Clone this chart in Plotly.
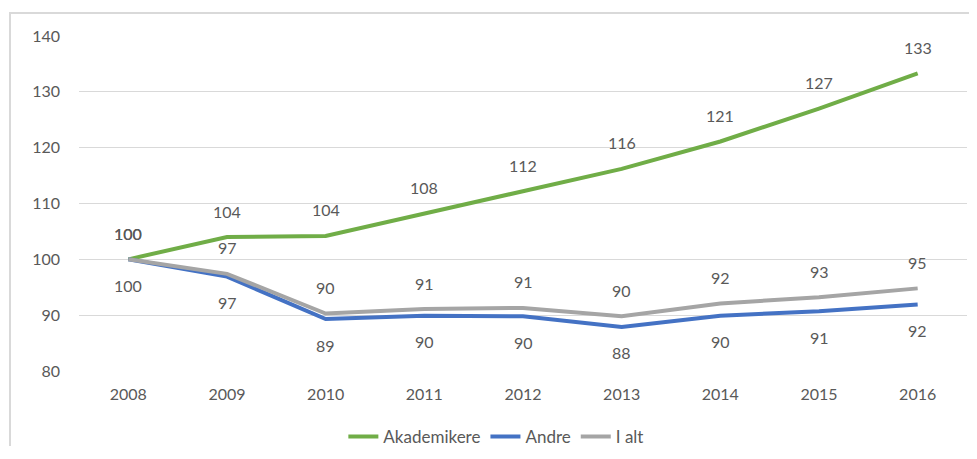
import plotly.graph_objects as go

years = [2008, 2009, 2010, 2011, 2012, 2013, 2014, 2015, 2016]
akademikere = [100, 104.0, 104.2, 108.2, 112.2, 116.2, 121.1, 127.0, 133.3]
andre = [100, 96.9, 89.3, 89.9, 89.8, 87.9, 89.9, 90.7, 91.9]
i_alt = [100, 97.4, 90.3, 91.1, 91.3, 89.8, 92.1, 93.2, 94.8]

series = [
    ("Akademikere", akademikere, "#70AD47", 26),
    ("Andre", andre, "#4472C4", -26),
    ("I alt", i_alt, "#A5A5A5", 26),
]

FONT = "Lato, Calibri, Carlito, sans-serif"
TXT = "#595959"
FS = 16

fig = go.Figure()
annotations = []
for name, vals, color, shift in series:
    fig.add_trace(go.Scatter(
        x=years, y=vals, mode="lines", name=name,
        line=dict(color=color, width=4),
    ))
    for x, v in zip(years, vals):
        annotations.append(dict(
            x=x, y=v, xref="x", yref="y", text=f"{round(v)}",
            showarrow=False, yshift=shift,
            font=dict(family=FONT, size=FS, color=TXT),
        ))

# page body has an 8px default margin; figure sized so the page fits the window
fig.update_layout(
    width=961, height=438,
    margin=dict(l=71, r=2, t=28, b=75, autoexpand=False),
    paper_bgcolor="white", plot_bgcolor="white",
    font=dict(family=FONT, size=FS, color=TXT),
    annotations=annotations,
    showlegend=True,
    legend=dict(orientation="h", x=0.47, xanchor="center", y=-0.197, yanchor="middle",
                font=dict(family=FONT, size=17, color=TXT),
                traceorder="normal"),
    xaxis=dict(type="linear", range=[years[0] - 0.5, years[-1] + 0.5], tickvals=years,
               ticktext=[str(y) for y in years],
               showgrid=False, zeroline=False, showline=False,
               ticks="", ticklabelstandoff=12, tickfont=dict(size=FS, color=TXT)),
    yaxis=dict(range=[80, 140], dtick=10, showgrid=True, gridcolor="#D9D9D9", gridwidth=1,
               zeroline=False, showline=False, ticks="", ticklabelstandoff=18,
               tickfont=dict(size=FS, color=TXT)),
    shapes=[dict(type="rect", xref="paper", yref="paper",
                 x0=(10 - 79) / 888, x1=1.05, y0=-0.4, y1=(371 - 13) / 335,
                 line=dict(color="#D9D9D9", width=2), layer="below")],
)

fig.write_html("out.html")
